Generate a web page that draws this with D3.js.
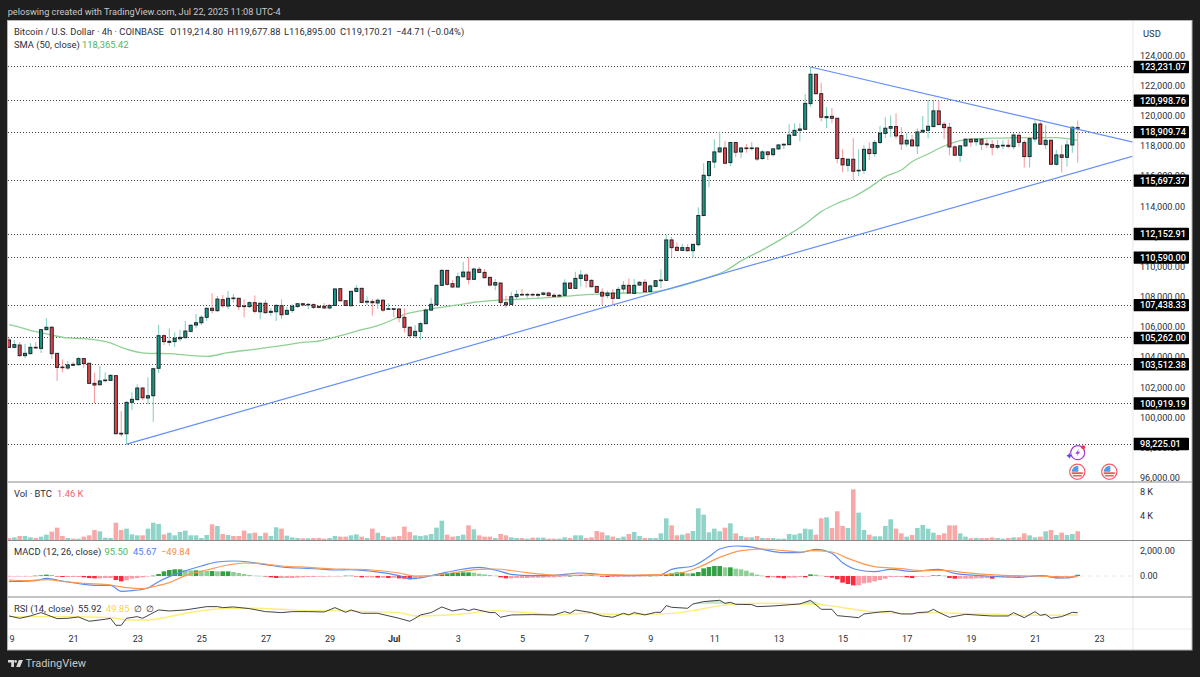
<!DOCTYPE html>
<html>
<head>
<meta charset="utf-8">
<script src="https://cdn.jsdelivr.net/npm/d3@7"></script>
<style>
  html, body { margin: 0; padding: 0; background: #1e1e1e; }
  svg { display: block; }
  text { font-family: Roboto, "Noto Sans", sans-serif; }
</style>
</head>
<body>
<div id="chart"></div>
<script>
// 4h candles, prices in thousand USD, bar 0 = Jun 19 00:00
const opens = [105.13,104.64,104.79,104.09,104.22,104.64,104.57,105.81,105.97,104.24,103.33,103.27,103.51,103.49,103.89,103.58,102.25,102.16,102.43,102.45,
  102.76,98.94,98.91,100.99,101.17,101.94,101.28,101.43,103.25,105.41,104.97,105.02,105.21,105.28,105.70,106.12,106.27,106.63,107.23,107.07,
  107.80,107.38,107.91,107.89,107.38,107.34,107.60,107.00,107.56,106.96,107.00,107.40,106.83,107.09,107.34,107.53,107.45,107.47,107.34,107.36,
  107.25,107.42,108.53,107.73,107.40,108.35,108.55,107.64,107.67,107.58,107.76,107.16,107.20,107.18,106.63,105.97,105.41,105.70,106.21,107.11,
  107.47,108.75,109.74,108.86,108.64,109.32,109.63,109.15,109.81,109.61,109.28,108.77,108.90,107.60,107.49,108.00,108.15,108.11,108.15,108.09,
  108.15,108.24,108.09,108.04,108.09,108.90,108.55,109.21,109.43,109.08,108.68,108.29,108.07,108.24,107.89,108.51,108.75,108.22,108.77,108.95,
  108.35,108.68,109.06,109.08,111.76,111.27,111.07,111.25,111.05,111.45,113.38,116.03,116.93,117.60,117.86,116.89,118.22,117.60,117.86,117.82,
  117.86,117.16,117.60,117.42,117.80,118.06,118.08,118.70,119.03,119.10,120.80,122.75,121.46,119.87,119.96,119.83,117.16,116.71,117.11,116.34,
  116.38,117.77,117.49,118.22,118.83,119.17,119.28,118.68,118.13,118.39,118.00,118.92,119.03,119.28,120.32,119.43,119.23,117.93,117.38,118.00,
  118.44,118.28,118.44,118.13,118.08,117.91,118.00,118.04,117.95,118.70,118.22,117.29,118.46,119.45,118.08,118.37,116.78,117.40,117.24,118.06,119.21];
const highs = [105.28,105.13,104.97,104.86,104.93,104.97,105.85,106.56,106.05,104.24,103.84,103.73,103.69,104.00,103.95,103.62,102.96,103.42,102.98,102.85,
  102.81,100.42,101.04,101.66,102.19,101.99,102.65,103.29,106.12,105.50,105.90,105.63,105.81,106.39,106.19,106.85,106.78,107.27,108.22,108.04,
  108.11,108.37,108.18,107.93,107.82,107.71,108.07,107.62,107.80,107.27,107.49,107.82,107.34,107.49,107.58,107.60,107.58,107.56,107.45,107.58,
  107.49,108.55,108.57,107.78,108.40,108.77,108.60,108.02,107.84,107.89,107.84,107.56,107.23,107.23,107.23,106.01,106.12,106.34,107.23,107.93,
  108.82,109.83,109.79,109.10,109.61,110.32,110.61,109.92,109.96,109.83,109.32,109.17,108.95,108.04,108.33,108.44,108.51,108.26,108.26,108.22,
  108.33,108.33,108.22,108.18,109.15,108.95,109.66,109.77,109.55,109.15,108.73,108.55,108.40,108.51,108.66,109.04,109.21,109.17,109.04,109.17,
  108.82,109.10,109.81,112.13,111.98,111.60,111.49,111.47,111.49,113.93,116.85,117.00,118.44,118.95,118.33,118.26,118.26,117.95,118.13,118.26,
  117.91,117.73,117.64,117.84,118.13,118.13,119.43,119.50,119.50,121.44,123.23,122.77,122.19,120.58,120.51,119.87,117.77,117.18,118.50,117.77,
  118.06,118.24,118.39,119.32,119.90,120.01,120.16,119.23,118.83,118.72,119.17,119.98,121.04,121.04,121.00,119.59,119.54,118.06,118.06,118.50,
  118.50,118.50,118.50,118.44,118.39,118.39,118.35,118.44,118.83,118.83,118.39,118.61,119.76,119.61,119.37,118.44,117.73,118.06,118.39,119.32,119.68];
const lows = [104.62,104.57,104.02,103.91,104.18,104.53,104.26,105.77,103.87,102.41,102.98,103.14,103.40,103.42,103.29,102.19,100.93,102.10,102.32,102.41,
  98.87,98.72,98.23,100.48,101.13,101.13,100.86,99.71,102.94,104.79,104.75,104.66,105.02,105.24,105.63,105.90,106.12,106.39,106.89,107.00,
  107.27,107.18,107.62,107.11,106.61,107.27,106.89,106.50,106.87,106.74,106.39,106.52,106.78,106.94,107.29,107.36,107.18,107.18,107.23,107.18,
  107.18,107.38,107.67,107.36,107.36,108.29,107.56,107.45,106.74,107.18,106.96,107.11,106.63,106.30,105.63,105.24,105.24,105.13,106.16,107.05,
  107.40,108.71,108.73,108.60,108.60,109.28,108.82,109.10,109.57,109.21,108.68,108.42,107.45,107.27,107.45,107.78,108.07,107.93,108.00,107.89,
  108.07,108.00,107.98,107.93,108.04,108.51,108.51,108.66,108.60,108.62,108.24,107.45,107.89,107.45,107.84,108.22,108.20,108.18,108.73,108.26,
  108.29,108.62,108.55,109.04,110.61,111.03,111.03,110.98,110.58,111.32,113.33,115.25,116.51,117.55,116.76,116.67,117.24,117.18,117.55,117.69,
  117.00,117.07,117.07,117.29,117.73,117.77,118.04,118.66,118.30,119.06,120.60,121.42,119.61,119.19,119.50,116.85,116.25,116.29,115.67,116.00,
  116.14,117.07,117.29,118.13,118.50,118.57,118.44,117.73,117.95,117.95,117.46,118.88,118.50,119.23,119.39,118.44,117.38,117.33,116.93,117.95,
  117.95,118.00,117.73,117.86,117.38,117.77,117.77,117.84,117.77,117.95,116.56,116.56,118.28,118.06,117.77,116.74,116.69,116.23,116.63,117.55,116.90];
const closes = [104.64,104.82,104.09,104.24,104.64,104.60,105.81,105.97,104.22,103.31,103.29,103.47,103.45,103.89,103.56,102.25,102.14,102.41,102.47,102.78,
  98.91,98.89,100.99,101.19,101.94,101.30,101.43,103.22,105.41,105.02,105.04,105.24,105.30,105.72,106.10,106.27,106.63,107.23,107.09,107.84,
  107.40,107.89,107.87,107.34,107.34,107.60,107.03,107.56,106.94,107.03,107.42,106.80,107.09,107.36,107.53,107.45,107.49,107.29,107.29,107.25,
  107.42,108.51,107.73,107.42,108.35,108.55,107.62,107.69,107.60,107.76,107.11,107.20,107.16,106.61,105.97,105.41,105.70,106.21,107.11,107.49,
  108.75,109.74,108.82,108.64,109.32,109.63,109.15,109.83,109.61,109.26,108.77,108.93,107.62,107.45,108.00,108.15,108.11,108.15,108.11,108.15,
  108.24,108.07,108.02,108.09,108.90,108.55,109.21,109.43,109.08,108.66,108.29,108.04,108.24,107.89,108.48,108.75,108.24,108.75,108.95,108.33,
  108.71,109.06,109.10,111.76,111.25,111.07,111.25,111.05,111.47,113.38,116.05,116.96,117.60,117.86,116.85,118.22,117.58,117.86,117.82,117.86,
  117.13,117.60,117.42,117.80,118.06,118.11,118.72,119.03,119.12,120.82,122.75,121.46,119.90,119.94,119.83,117.16,116.74,117.11,116.32,116.38,
  117.77,117.49,118.22,118.83,119.17,119.28,118.66,118.13,118.37,118.00,118.92,119.03,119.30,120.32,119.41,119.21,117.93,117.38,118.00,118.44,
  118.26,118.44,118.11,118.08,117.91,118.02,118.04,117.97,118.72,118.24,117.29,118.48,119.45,118.11,118.37,116.78,117.40,117.24,118.06,119.23,119.17];
// volume in thousand BTC
const volumes = [0.33,0.44,0.67,0.67,0.44,0.33,0.56,0.89,1.39,2.06,0.67,0.33,0.22,0.22,0.56,0.78,1.67,1.44,0.39,0.33,
  2.89,1.67,1.89,0.94,0.78,0.78,1.89,2.89,2.67,0.94,1.22,0.78,1.33,1.56,0.78,0.78,0.33,0.83,2.61,2.33,
  1.00,0.83,0.67,0.67,1.56,1.11,1.22,0.67,1.22,0.67,2.11,1.89,0.72,0.44,0.33,0.28,0.28,0.33,0.33,0.22,
  0.33,0.67,0.56,0.56,0.78,0.94,0.56,0.33,1.89,1.22,0.67,0.44,0.56,0.67,2.22,1.33,0.78,0.67,0.78,1.00,
  2.06,3.22,0.89,0.56,0.67,0.89,2.44,1.78,0.78,0.56,0.56,0.33,1.00,0.78,0.44,0.33,0.33,0.22,0.39,0.39,
  0.39,0.22,0.22,0.22,0.44,0.33,0.78,0.78,0.33,0.44,1.50,1.28,0.78,0.56,0.33,0.56,1.00,1.33,0.67,0.33,
  0.33,0.33,1.11,3.61,2.44,0.78,0.89,1.11,1.50,5.28,4.22,1.28,1.89,1.44,2.06,2.78,1.11,0.67,0.44,0.44,
  0.67,0.33,0.33,0.33,0.22,0.22,1.00,0.89,1.11,1.89,1.78,0.89,3.61,3.78,2.00,4.78,2.33,2.00,8.44,4.56,
  1.67,0.89,0.61,0.61,2.33,3.44,1.89,1.11,0.56,0.83,2.00,2.50,1.89,1.22,0.83,1.11,2.44,2.44,1.11,0.56,
  0.28,0.33,0.33,0.33,0.44,0.33,0.22,0.33,0.44,0.44,1.11,0.78,0.44,0.56,1.44,1.67,0.83,1.22,0.83,1.00,1.46];
const macdHist = [-26,-26,-26,-26,-26,26,52,104,78,-26,-78,-78,-78,-78,-104,-156,-182,-182,-156,-156,
  -311,-415,-337,-208,-156,-104,-26,26,156,363,467,519,519,467,441,441,415,389,389,363,
  363,363,311,234,156,78,26,13,-26,-104,-156,-156,-156,-156,-130,-104,-78,-78,-52,-52,
  -26,-26,-26,26,26,-26,-104,-104,-104,-130,-130,-156,-130,-182,-208,-259,-259,-156,-26,52,
  130,208,208,234,259,285,285,259,182,130,78,26,-104,-182,-182,-156,-156,-156,-130,-130,
  -130,-104,-104,-78,-26,0,52,78,52,52,26,-52,-78,-78,-78,-52,-52,-52,-26,-26,
  13,26,52,130,208,285,311,208,208,311,597,700,778,778,674,674,571,519,415,259,
  104,26,-104,-104,-130,-182,-130,-130,-78,-104,130,104,26,-52,-130,-259,-519,-623,-726,-726,
  -571,-519,-415,-311,-208,-78,-78,-78,-104,-156,-52,-52,-26,52,52,26,-156,-208,-208,-208,
  -208,-182,-182,-156,-208,-104,-104,-104,-78,-78,-52,-52,-52,-26,26,-104,-182,-182,-156,-104,95.5];

const smaIdx = [0,2,5,7,11,14,19,21,26,30,34,37,41,46,51,55,58,62,65,69,72,73,74,77,79,84,87,91,95,101,103,108,113,119,122,126,129,131,134,137,141,146,149,152,155,158,161,164,167,169,172,175,178,181,186,192,196,200];
const smaVal = [106.14,105.97,105.68,105.53,105.26,105.22,104.93,104.64,104.24,104.22,104.09,104.04,104.29,104.51,104.75,104.97,105.06,105.41,105.72,106.08,106.50,106.67,106.83,107.05,107.18,107.45,107.63,107.76,107.82,107.93,107.98,108.13,108.22,108.27,108.38,108.73,109.04,109.28,109.70,110.37,111.10,112.13,112.82,113.64,114.19,114.61,115.23,115.96,116.40,116.95,117.46,117.99,118.35,118.48,118.52,118.55,118.55,118.37];

const macdIdx = [0,2,5,7,9,11,14,16,19,21,23,26,28,30,32,36,39,42,45,48,51,54,58,61,64,68,73,75,77,79,81,84,88,91,94,98,102,107,111,116,122,124,128,131,133,136,138,141,145,148,151,154,156,159,162,165,169,174,177,183,189,193,197,198,200];
const macdVal = [-415,-415,-363,-182,-311,-467,-649,-726,-726,-1193,-1141,-934,-441,-52,259,778,1089,1167,1089,882,700,622,545,467,493,363,26,-208,-156,26,208,467,674,467,130,26,52,233,104,26,104,519,778,1505,2101,2335,2309,2075,1816,1816,2075,1764,1038,467,337,519,363,519,207,0,-104,26,-156,-156,45.67];
const signalIdx = [0,3,7,10,14,19,22,25,27,30,33,37,41,44,48,51,56,61,64,68,73,76,79,84,88,91,96,100,104,111,117,122,126,129,133,137,141,145,148,150,154,157,162,167,171,175,179,186,192,198,200];
const signalVal = [-311,-363,-285,-415,-571,-700,-908,-986,-830,-519,26,467,856,1012,934,778,674,545,519,467,233,0,26,311,519,545,311,130,52,104,78,104,259,674,1453,1971,2101,1971,1868,1971,1868,1375,726,571,415,441,259,52,0,-78,-49.84];

const rsiIdx = [0,2,4,6,9,11,13,15,18,19,20,21,22,24,25,28,30,33,37,39,40,42,45,47,48,51,53,56,59,61,63,64,66,69,73,75,76,77,79,81,83,85,86,87,90,91,92,94,98,102,104,105,106,109,111,113,115,116,117,119,121,122,123,124,127,128,130,133,134,135,136,139,140,143,148,150,152,154,155,157,159,160,163,165,167,169,170,172,173,174,176,179,181,184,187,188,190,192,193,194,195,197,199,200];
const rsiVal = [47.5,41.3,47.5,56.3,40.5,41.3,44.9,33.5,38.7,41.3,22.9,22.9,41.3,45.7,41.3,63.3,60.6,63.3,72,72,69.4,71.2,66.8,61.5,58.9,56.3,58.9,58.9,58,69.4,57.1,63.3,54.5,54.5,41.3,33.5,41.3,50.1,56.3,71.2,60.6,65.9,61.5,65.9,56.3,56.3,44,50.1,51,50.1,58.9,54.5,63.3,56.3,47.5,44,54.5,50.1,56.3,50.1,57.1,57.1,74.7,70.3,67.7,79,85.2,88.7,80.8,83.4,78.2,77.3,72,73.8,79,88.6,65,65,48.3,45.7,43,52.7,58,59.7,52.7,52.7,56.2,58,65,57,43.9,51.8,50,47.4,47.4,56.2,43,58.8,49.2,51.8,41.3,45.7,57,55.92];
const rsiMaIdx = [0,5,11,17,20,22,26,30,33,37,41,46,51,56,61,67,73,76,81,86,91,95,100,102,108,113,122,128,133,136,142,148,151,154,159,163,169,174,179,185,190,195,200];
const rsiMaVal = [45.7,45.7,45.7,44,41.3,37,37,45.7,54.5,63.3,67.7,67.7,65,61.5,61.5,58.9,56.3,47.5,49.2,54.5,61.5,58,52.7,50.1,54.5,51.9,52.7,61.5,74.7,79,80.8,79,78.1,73.7,63.2,56.2,53.6,56.2,53.6,51.8,49.2,49.2,49.85];

const priceLevels = [123231.07,120998.76,118909.74,115697.37,112152.91,110590.00,107438.33,105262.00,103512.38,100919.19,98225.01];
const priceTicks = [96,98,100,102,104,106,108,110,112,114,116,118,120,122,124];
const volTicks = [4,8];
const macdTicks = [0,2000];
const dayTickIdx = [0,12,24,36,48,60,72,84,96,108,120,132,144,156,168,180,192,204];
const dayTickLabels = ['19','21','23','25','27','29','Jul','3','5','7','9','11','13','15','17','19','21','23'];
// trend lines as [bar, price]
const lowerTrend = [[22,98.225],[210.4,117.32]];
const upperTrend = [[150,123.231],[210.4,118.24]];
const rsiFillLevel = 79;

const width = 1200, height = 677;
const plotLeft = 7.5, plotRight = 1133, frameRight = 1192;
const frameTop = 20.5, frameBottom = 650;
const pricePane = [frameTop, 482], volPane = [482, 540.5], macdPane = [540.5, 597], rsiPane = [597, 629];

const GREEN = '#0f9d87', RED = '#ee3f45', WICK_GREEN = '#85d2c6', WICK_RED = '#f89ea2';
const TEXT = '#2a2e39';
const fontSize = 9.4, axisFontSize = 9.1;

const x = d3.scaleLinear().domain([0, 200]).range([9, 1077.7]);
const priceY = d3.scaleLinear().domain([96, 124]).range([477.6, 55.4]);
const volY = d3.scaleLinear().domain([0, 8]).range([540, 492]);
const macdY = d3.scaleLinear().domain([0, 2000]).range([576, 550.3]);
const rsiY = d3.scaleLinear().domain([0, 100]).range([634, 596]);

const svg = d3.select('#chart').append('svg').attr('width', width).attr('height', height);
svg.append('rect').attr('width', width).attr('height', height).attr('fill', '#1e1e1e');
svg.append('rect').attr('x', plotLeft).attr('y', frameTop)
  .attr('width', frameRight - plotLeft).attr('height', frameBottom - frameTop)
  .attr('fill', '#fff');

const defs = svg.append('defs');
const clip = (id, pane) => defs.append('clipPath').attr('id', id).append('rect')
  .attr('x', plotLeft).attr('y', pane[0]).attr('width', plotRight - plotLeft).attr('height', pane[1] - pane[0]);
clip('price-clip', pricePane);
clip('vol-clip', volPane);
clip('macd-clip', macdPane);
clip('rsi-clip', rsiPane);

const isUp = i => closes[i] >= opens[i];
const fmtPrice = d3.format(',.2f');

function label(txt, px, py, color, opts) {
  return svg.append('text').attr('x', px).attr('y', py)
    .attr('dy', '0.35em')
    .attr('font-size', (opts && opts.size) || fontSize)
    .attr('font-weight', (opts && opts.weight) || 400)
    .attr('letter-spacing', (opts && opts.spacing) || 0)
    .attr('fill', color || TEXT)
    .text(txt);
}

function seriesLine(g, idx, vals, yScale, color, sw, curve) {
  const line = d3.line().x((d, i) => x(idx[i])).y(d => yScale(d));
  if (curve) line.curve(curve);
  g.append('path').datum(vals).attr('d', line)
    .attr('fill', 'none').attr('stroke', color).attr('stroke-width', sw)
    .attr('stroke-linejoin', 'round');
}

// price pane
const price = svg.append('g').attr('clip-path', 'url(#price-clip)');

// snapped to whole pixels or the dots blur into a solid line
price.selectAll('.level').data(priceLevels).enter().append('line')
  .attr('x1', 8).attr('x2', plotRight)
  .attr('y1', d => Math.floor(priceY(d / 1000)) + 0.5).attr('y2', d => Math.floor(priceY(d / 1000)) + 0.5)
  .attr('stroke', '#444').attr('stroke-width', 1).attr('stroke-dasharray', '1 2')
  .attr('shape-rendering', 'crispEdges');

seriesLine(price, smaIdx, smaVal, priceY, '#8fd194', 1.3, d3.curveMonotoneX);

price.selectAll('.wick').data(opens).enter().append('line')
  .attr('x1', (d, i) => x(i)).attr('x2', (d, i) => x(i))
  .attr('y1', (d, i) => priceY(highs[i])).attr('y2', (d, i) => priceY(lows[i]))
  .attr('stroke', (d, i) => isUp(i) ? WICK_GREEN : WICK_RED)
  .attr('stroke-width', 1.1);

price.selectAll('.body').data(opens).enter().append('rect')
  .attr('x', (d, i) => x(i) - 1.5)
  .attr('width', 3)
  .attr('y', (d, i) => priceY(Math.max(opens[i], closes[i])))
  .attr('height', (d, i) => Math.max(0.6, Math.abs(priceY(opens[i]) - priceY(closes[i]))))
  .attr('fill', (d, i) => isUp(i) ? GREEN : RED)
  .attr('stroke', '#23262b').attr('stroke-width', 1);

[lowerTrend, upperTrend].forEach(t => {
  price.append('line')
    .attr('x1', x(t[0][0])).attr('y1', priceY(t[0][1]))
    .attr('x2', x(t[1][0])).attr('y2', priceY(t[1][1]))
    .attr('stroke', '#648ff8').attr('stroke-width', 1.2);
});

// volume pane
svg.append('g').attr('clip-path', 'url(#vol-clip)')
  .selectAll('rect').data(volumes).enter().append('rect')
  .attr('x', (d, i) => x(i) - 2.3).attr('width', 4.6)
  .attr('y', d => volY(d)).attr('height', d => volY(0) - volY(d))
  .attr('fill', (d, i) => isUp(i) ? '#8fd3c9' : '#f9a8a8');

// macd pane
const macd = svg.append('g').attr('clip-path', 'url(#macd-clip)');
macd.append('line').attr('x1', plotLeft).attr('x2', plotRight)
  .attr('y1', macdY(0)).attr('y2', macdY(0))
  .attr('stroke', '#e4e4e4').attr('stroke-dasharray', '4 4');
macd.selectAll('rect').data(macdHist).enter().append('rect')
  .attr('x', (d, i) => x(i) - 2.3).attr('width', 4.6)
  .attr('y', d => Math.min(macdY(0), macdY(d)))
  .attr('height', d => Math.max(0.5, Math.abs(macdY(d) - macdY(0))))
  .attr('fill', (d, i) => {
    const prev = i ? macdHist[i - 1] : d;
    if (d >= 0) return d >= prev ? '#34a044' : '#8fcf95';
    return d < prev ? '#fb2a3d' : '#f99aa6';
  });
seriesLine(macd, macdIdx, macdVal, macdY, '#5b8cf5', 1.2, d3.curveMonotoneX);
seriesLine(macd, signalIdx, signalVal, macdY, '#fb9a50', 1.2, d3.curveMonotoneX);

// rsi pane
const rsi = svg.append('g').attr('clip-path', 'url(#rsi-clip)');
rsi.append('path').datum(rsiVal)
  .attr('d', d3.area().x((d, i) => x(rsiIdx[i]))
    .y0(rsiY(rsiFillLevel)).y1(d => rsiY(Math.max(d, rsiFillLevel))))
  .attr('fill', '#cfe9d1');
seriesLine(rsi, rsiMaIdx, rsiMaVal, rsiY, '#fdee7a', 1.4, d3.curveMonotoneX);
seriesLine(rsi, rsiIdx, rsiVal, rsiY, '#444', 1);

// axes
const priceAxis = svg.append('g').attr('transform', `translate(${plotRight},0)`)
  .call(d3.axisRight(priceY).tickValues(priceTicks).tickSize(0).tickPadding(7)
    .tickFormat(d => fmtPrice(d * 1000)));
const volAxis = svg.append('g').attr('transform', `translate(${plotRight},0)`)
  .call(d3.axisRight(volY).tickValues(volTicks).tickSize(0).tickPadding(7).tickFormat(d => d + ' K'));
const macdAxis = svg.append('g').attr('transform', `translate(${plotRight},0)`)
  .call(d3.axisRight(macdY).tickValues(macdTicks).tickSize(0).tickPadding(7).tickFormat(fmtPrice));
const timeAxis = svg.append('g').attr('transform', `translate(0,${rsiPane[1]})`)
  .call(d3.axisBottom(x).tickValues(dayTickIdx).tickSize(0).tickPadding(7)
    .tickFormat((d, i) => dayTickLabels[i]));
[priceAxis, volAxis, macdAxis, timeAxis].forEach(a => {
  a.select('.domain').remove();
  a.selectAll('text').attr('font-family', 'Roboto, sans-serif').attr('font-size', axisFontSize).attr('fill', TEXT);
});
timeAxis.selectAll('text').filter(d => d === 72).attr('font-weight', 700);

// price labels
const tags = svg.append('g').selectAll('g').data(priceLevels).enter().append('g')
  .attr('transform', d => `translate(${plotRight},${priceY(d / 1000)})`);
tags.append('rect').attr('x', 0).attr('y', -6.2).attr('width', 56).attr('height', 12.4).attr('rx', 1).attr('fill', '#000');
tags.append('text').attr('x', 7).attr('dy', '0.35em').attr('font-size', axisFontSize).attr('font-weight', 500)
  .attr('fill', '#fff').text(d => fmtPrice(d));

// event icons
const flag = (cx, cy) => {
  const g = svg.append('g').attr('transform', `translate(${cx},${cy})`);
  g.append('circle').attr('r', 7.6).attr('fill', '#fff').attr('stroke', '#f25c64').attr('stroke-width', 1.2);
  g.append('rect').attr('x', -5.5).attr('y', 0.6).attr('width', 11).attr('height', 1.8).attr('fill', '#f0525c');
  g.append('rect').attr('x', -4.6).attr('y', 3.4).attr('width', 9.2).attr('height', 1.4).attr('fill', '#f0525c');
  g.append('path').attr('d', 'M-5.6,0 A5.6,5.6 0 0 1 1,-5.5 L1,0 Z').attr('fill', '#4a9df0');
};
flag(1077.3, 471.7);
flag(1109.3, 471.7);
const spark = svg.append('g').attr('transform', 'translate(1077.7,452.7)');
spark.append('circle').attr('r', 7).attr('fill', '#fff').attr('stroke', '#a63fd6').attr('stroke-width', 1.2);
spark.append('path').attr('d', 'M1.5,-4 L-2.5,1 L0,1 L-1.5,4 L2.5,-1 L0,-1 Z').attr('fill', '#a63fd6');
spark.append('path').attr('d', 'M-8.4,0 L-7.4,2 L-5.4,3 L-7.4,4 L-8.4,6 L-9.4,4 L-11.4,3 L-9.4,2 Z').attr('fill', '#5e45e0');
spark.append('circle').attr('cx', 5.5).attr('cy', -5.4).attr('r', 2).attr('fill', '#f23645');

// legends
label('Bitcoin / U.S. Dollar · 4h · COINBASE', 14, 32);
label('O119,214.80', 170, 32);
label('H119,677.88', 227.3, 32);
label('L116,895.00', 284, 32);
label('C119,170.21', 340, 32);
label('−44.71 (−0.04%)', 396, 32);
label('SMA (50, close)', 14, 45);
label('118,365.42', 82, 45, '#4fb35a');
label('USD', 1143, 34);
label('Vol · BTC', 14, 494);
label('1.46 K', 57, 494, '#f2636c');
label('MACD (12, 26, close)', 14, 552);
label('95.50', 104.5, 552, '#4fb35a');
label('45.67', 133, 552, '#4b7df0');
label('−49.84', 161, 552, '#fb8c3c');
label('RSI (14, close)', 14, 608.5);
label('55.92', 78, 608.5);
label('49.85', 106, 608.5, '#fdd835');
label('∅', 134, 608.5);
label('∅', 146, 608.5);

// pane borders, drawn over the marks
const sep = (x1, y1, x2, y2, color, sw) => svg.append('line')
  .attr('x1', x1).attr('y1', y1).attr('x2', x2).attr('y2', y2)
  .attr('stroke', color).attr('stroke-width', sw);
sep(plotRight, frameTop, plotRight, frameBottom, '#eeeeee', 1.4);
sep(plotLeft, rsiPane[1], frameRight, rsiPane[1], '#eeeeee', 1.2);
sep(plotLeft, pricePane[1], frameRight, pricePane[1], '#8a8a8a', 1.2);
sep(plotLeft, volPane[1], frameRight, volPane[1], '#8a8a8a', 1.2);
sep(plotLeft, macdPane[1], frameRight, macdPane[1], '#8a8a8a', 1.2);

// dark surround covers whatever runs past the frame
svg.append('path').attr('fill', '#1e1e1e').attr('fill-rule', 'evenodd')
  .attr('d', `M0,0H${width}V${height}H0Z M${plotLeft},${frameTop}V${frameBottom}H${frameRight}V${frameTop}Z`);
svg.append('rect').attr('x', plotLeft).attr('y', frameTop)
  .attr('width', frameRight - plotLeft).attr('height', frameBottom - frameTop)
  .attr('fill', 'none').attr('stroke', '#b5b5b5').attr('stroke-width', 1);

label('peloswing created with TradingView.com, Jul 22, 2025 11:08 UTC-4', 7.7, 11.5, '#c8c8c8', { size: 9.2 });

// footer mark
const logo = svg.append('g').attr('transform', 'translate(8,660)').attr('fill', '#d8d8d8');
logo.append('path').attr('d', 'M0,0H6V7H3.2V2.4H0Z');
logo.append('circle').attr('cx', 7.6).attr('cy', 1.4).attr('r', 1.3);
logo.append('path').attr('d', 'M10.8,0H15L12,7H8.2Z');
label('TradingView', 25.5, 663.5, '#c8c8c8', { size: 11 });
</script>
</body>
</html>
